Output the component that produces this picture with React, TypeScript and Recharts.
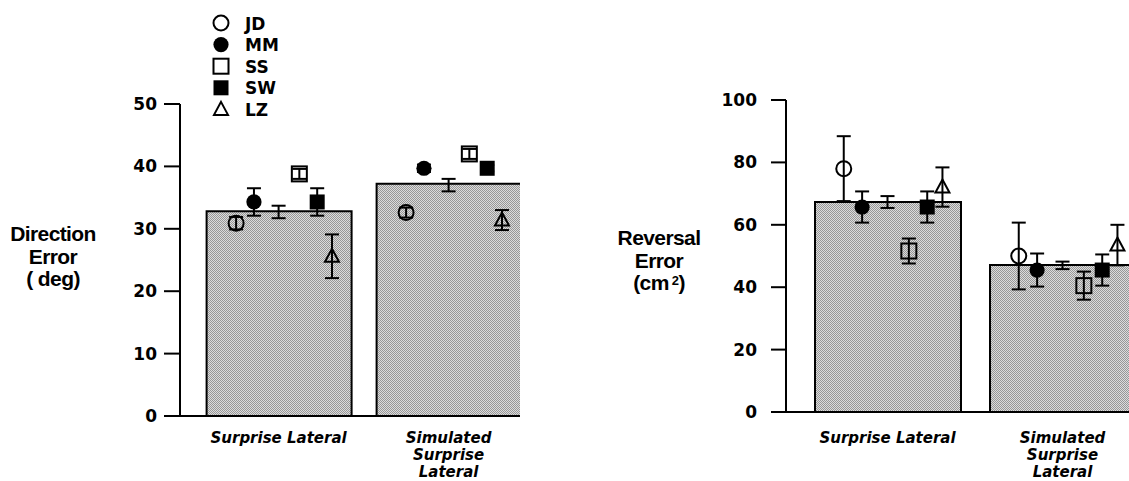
import React from 'react';
import { ComposedChart, Bar, Scatter, ErrorBar, XAxis, YAxis, Legend } from 'recharts';

// ---------- data ----------
const categories = ['Surprise Lateral', 'Simulated Surprise Lateral'];
const xTickLines = [['Surprise Lateral'], ['Simulated', 'Surprise', 'Lateral']];
const subjects = ['JD', 'MM', 'SS', 'SW', 'LZ'];

// Direction error (deg)
const dirBar = [32.8, 37.2];
const dirMean = [32.7, 37.0];
const dirMeanErr = [1.0, 1.0];
const dirJD = [30.9, 32.6];
const dirJDErr = [1.0, 0.8];
const dirMM = [34.3, 39.7];
const dirMMErr = [2.2, 0.6];
const dirSS = [38.8, 42.0];
const dirSSErr = [0.8, 0.8];
const dirSW = [34.3, 39.7];
const dirSWErr = [2.2, 0.5];
const dirLZ = [25.6, 31.4];
const dirLZErr = [3.5, 1.6];
const dirTicks = [0, 10, 20, 30, 40, 50];

// Reversal error (cm2)
const revBar = [67.3, 47.1];
const revMean = [67.3, 47.0];
const revMeanErr = [1.9, 1.2];
const revJD = [78.0, 50.0];
const revJDErr = [10.4, 10.7];
const revMM = [65.7, 45.5];
const revMMErr = [5.0, 5.3];
const revSS = [51.6, 40.5];
const revSSErr = [4.0, 4.5];
const revSW = [65.7, 45.5];
const revSWErr = [5.0, 5.0];
const revLZ = [72.1, 53.5];
const revLZErr = [6.3, 6.5];
const revTicks = [0, 20, 40, 60, 80, 100];

// ---------- layout (not data) ----------
const SUBJECT_OFFSET: Record<string, number> = { JD: -0.25, MM: -0.145, MEAN: 0, SS: 0.122, SW: 0.227, LZ: 0.314 };
const X_DOMAIN: [number, number] = [0.42, 2.42];

const toRows = (key: string, vals: number[], errs: number[]) =>
  vals.map((v, i) => ({ x: i + 1 + SUBJECT_OFFSET[key], y: v, err: errs[i] }));
const barRows = (vals: number[]) => vals.map((v, i) => ({ x: i + 1, value: v, name: categories[i] }));

const marker = (name: string, cx: number, cy: number) => {
  const s = { stroke: '#000', strokeWidth: 2 };
  switch (name) {
    case 'JD':
      return <circle cx={cx} cy={cy} r={7.5} fill="none" {...s} />;
    case 'MM':
      return <circle cx={cx} cy={cy} r={7.6} fill="#000" stroke="none" />;
    case 'SS':
      return <rect x={cx - 7.5} y={cy - 7.5} width={15} height={15} fill="none" {...s} />;
    case 'SW':
      return <rect x={cx - 7.5} y={cy - 7.5} width={15} height={15} fill="#000" stroke="none" />;
    case 'LZ':
      return <polygon points={`${cx},${cy - 7.5} ${cx + 7},${cy + 5.5} ${cx - 7},${cy + 5.5}`} fill="none" {...s} strokeLinejoin="miter" />;
    default:
      return <g />;
  }
};

const makeXTick = (dy0: number) => (props: any) => {
  const { x, y, payload } = props;
  const idx = Math.round(payload.value) - 1;
  const lines = xTickLines[idx] || [];
  return (
    <text x={x} y={y} textAnchor="middle" fontFamily="DejaVu Sans" fontWeight="bold" fontStyle="italic" fontSize={15} fill="#000">
      {lines.map((l, i) => (
        <tspan key={i} x={x} y={y + dy0 + i * 17}>{l}</tspan>
      ))}
    </text>
  );
};

const LegendContent = (props: any) => {
  const names = (props.payload || []).map((p: any) => p.value);
  const items = subjects.filter((s) => names.includes(s));
  return (
    <svg width={100} height={115} style={{ display: 'block' }}>
      {items.map((name: string, i: number) => {
        const cy = 13 + i * 21.6;
        return (
          <g key={name}>
            {marker(name, 16, cy)}
            <text x={40} y={cy + 6.5} fontFamily="DejaVu Sans" fontWeight="bold" fontSize={17} fill="#000">{name}</text>
          </g>
        );
      })}
    </svg>
  );
};

const yTickStyle = { fontFamily: 'DejaVu Sans', fontWeight: 'bold', fontSize: 17, fill: '#000' } as any;

type PanelProps = {
  bars: number[];
  series: { key: string; vals: number[]; errs: number[] }[];
  ticks: number[];
  yMax: number;
  margin: any;
  barSize: number;
  tickSize: number;
  tickMargin: number;
  xDy: number;
  legend?: boolean;
  patternId: string;
};

const Panel = ({ bars, series, ticks, yMax, margin, barSize, tickSize, tickMargin, xDy, legend, patternId }: PanelProps) => (
  <ComposedChart width={560} height={481} data={barRows(bars)} margin={margin}>
    <defs>
      <pattern id={patternId} width={2} height={2} patternUnits="userSpaceOnUse">
        <rect x={0} y={0} width={2} height={2} fill="#dcdcdc" />
        <rect x={0} y={0} width={1} height={1} fill="#979797" />
        <rect x={1} y={1} width={1} height={1} fill="#979797" />
      </pattern>
    </defs>
    <XAxis
      xAxisId="pts"
      type="number"
      dataKey="x"
      domain={X_DOMAIN}
      allowDataOverflow
      ticks={[1, 2]}
      tickLine={false}
      tickSize={0}
      tickMargin={0}
      tick={makeXTick(xDy)}
      axisLine={{ stroke: '#000', strokeWidth: 2 }}
      height={60}
      interval={0}
    />
    <XAxis xAxisId="bars" orientation="top" type="number" dataKey="x" domain={X_DOMAIN} allowDataOverflow hide height={0} />
    <YAxis
      type="number"
      domain={[0, yMax]}
      ticks={ticks}
      interval={0}
      width={80}
      tickSize={tickSize}
      tickMargin={tickMargin}
      tick={yTickStyle}
      tickLine={{ stroke: '#000', strokeWidth: 2 }}
      axisLine={{ stroke: '#000', strokeWidth: 2 }}
    />
    <Bar xAxisId="bars" dataKey="value" barSize={barSize} fill={`url(#${patternId})`} stroke="#000" strokeWidth={2} isAnimationActive={false} legendType="none" />
    {series.map((s) => (
      <Scatter
        key={s.key}
        xAxisId="pts"
        name={s.key}
        data={toRows(s.key, s.vals, s.errs)}
        dataKey="y"
        isAnimationActive={false}
        legendType={s.key === 'MEAN' ? 'none' : 'circle'}
        shape={(p: any) => marker(s.key, p.cx, p.cy)}
      >
        <ErrorBar dataKey="err" direction="y" width={7} stroke="#000" strokeWidth={2} isAnimationActive={false} />
      </Scatter>
    ))}
    {legend && (
      <Legend
        layout="vertical"
        align="center"
        verticalAlign="middle"
        content={<LegendContent />}
        wrapperStyle={{ position: 'absolute', left: 205, top: 10, width: 100, height: 115 }}
      />
    )}
  </ComposedChart>
);

const titleStyle: React.CSSProperties = {
  position: 'absolute',
  fontFamily: 'Liberation Sans, Arial, sans-serif',
  fontWeight: 'bold',
  fontSize: 21,
  letterSpacing: -0.6,
  lineHeight: '22.5px',
  textAlign: 'center',
  color: '#000',
  width: 120,
};

export default function App() {
  const dirSeries = [
    { key: 'JD', vals: dirJD, errs: dirJDErr },
    { key: 'MM', vals: dirMM, errs: dirMMErr },
    { key: 'MEAN', vals: dirMean, errs: dirMeanErr },
    { key: 'SS', vals: dirSS, errs: dirSSErr },
    { key: 'SW', vals: dirSW, errs: dirSWErr },
    { key: 'LZ', vals: dirLZ, errs: dirLZErr },
  ];
  const revSeries = [
    { key: 'JD', vals: revJD, errs: revJDErr },
    { key: 'MM', vals: revMM, errs: revMMErr },
    { key: 'MEAN', vals: revMean, errs: revMeanErr },
    { key: 'SS', vals: revSS, errs: revSSErr },
    { key: 'SW', vals: revSW, errs: revSWErr },
    { key: 'LZ', vals: revLZ, errs: revLZErr },
  ];
  return (
    <div style={{ position: 'fixed', left: 0, top: 0, width: 1129, height: 481, overflow: 'hidden', background: '#fff' }}>
      <div style={{ position: 'absolute', left: 0, top: 0 }}>
        <Panel
          bars={dirBar}
          series={dirSeries}
          ticks={dirTicks}
          yMax={50}
          margin={{ top: 104, right: 40, bottom: 5, left: 100 }}
          barSize={145}
          tickSize={16}
          tickMargin={7}
          xDy={27}
          legend
          patternId="dither1"
        />
      </div>
      <div style={{ position: 'absolute', left: 600, top: 0 }}>
        <Panel
          bars={revBar}
          series={revSeries}
          ticks={revTicks}
          yMax={100}
          margin={{ top: 100, right: 24, bottom: 9, left: 106 }}
          barSize={146}
          tickSize={15}
          tickMargin={14}
          xDy={31}
          patternId="dither2"
        />
      </div>
      <div style={{ ...titleStyle, left: 53 - 60, top: 223 }}>
        Direction<br />Error<br />( deg)
      </div>
      <div style={{ ...titleStyle, left: 659 - 60, top: 227 }}>
        Reversal<br />Error<br />(cm<sup style={{ fontSize: 13, verticalAlign: 'top', lineHeight: '18px', marginLeft: 3 }}>2</sup>)
      </div>
    </div>
  );
}
